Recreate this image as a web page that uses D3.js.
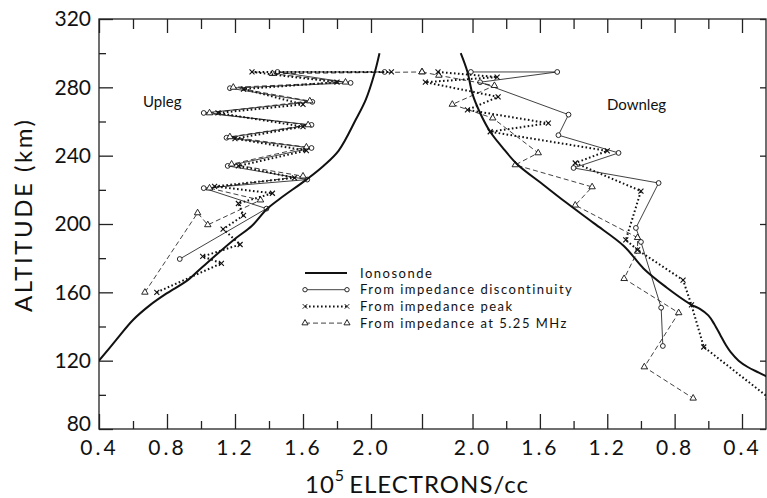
<!DOCTYPE html>
<html>
<head>
<meta charset="utf-8">
<script src="https://cdn.jsdelivr.net/npm/d3@7"></script>
<style>
  body { margin: 0; background: #fff; }
  svg { display: block; }
</style>
</head>
<body>
<svg id="chart" width="767" height="498"></svg>
<script>
// ---- axis ticks ----
const altTicks  = [80, 120, 160, 200, 240, 280, 320];
const altMinor  = [100, 140, 180, 220, 260, 300];
const upTicks   = [0.4, 0.8, 1.2, 1.6, 2.0];
const upMinor   = [0.6, 1.0, 1.4, 1.8];
const downTicks = [2.0, 1.6, 1.2, 0.8, 0.4];
const downMinor = [1.8, 1.4, 1.0, 0.6];
const breakValue = 2.3;   // both density scales meet here at the centre

// ---- series: [10^5 electrons/cc, altitude km] ----
const seriesNames = ["Ionosonde", "From impedance discontinuity", "From impedance peak", "From impedance at 5.25 MHz"];

const upIonosonde = [[0.4,120],[0.5,132],[0.6,143.8],[0.7,152.5],[0.8,159.5],[0.92,167],[1.01,175],[1.19,190.5],
  [1.30,199],[1.385,208.5],[1.46,214.5],[1.62,226],[1.72,234],[1.81,243],[1.91,261],[1.97,273],[2.02,288],[2.05,300]];
const downIonosonde = [[2.07,300],[2.03,289],[2.0,276],[1.955,265],[1.895,254],[1.824,245],[1.735,235],[1.58,223],
  [1.45,213],[1.28,200.5],[1.10,187],[0.985,174],[0.85,163],[0.705,153],[0.65,150.3],[0.60,146.5],[0.565,141.5],
  [0.526,134.5],[0.495,129],[0.467,125],[0.42,120],[0.366,116.3],[0.30,113],[0.247,110.4]];

const upDiscontinuity = [[0.875,179.5],[1.385,209],[1.016,221],[1.625,226],[1.157,234],[1.65,244.5],[1.15,250.5],
  [1.65,258],[1.016,265],[1.655,271.5],[1.17,279.5],[1.88,282.6],[1.45,289],[2.08,289]];
const downDiscontinuity = [[2.01,289],[1.497,289],[1.955,283],[1.43,264],[1.49,252],[1.133,241.6],[1.40,232.8],
  [0.895,224],[1.03,197.7],[1.0,189.5],[0.88,151],[0.87,128.6]];

const upPeak = [[0.74,160],[1.12,177],[1.01,181],[1.23,188],[1.13,197],[1.25,205],[1.22,212],[1.42,218],[1.08,222],
  [1.55,227],[1.22,234],[1.62,243],[1.2,250],[1.6,257],[1.1,265],[1.6,270],[1.25,279],[1.8,283],[1.3,289],[2.12,289]];
const downPeak = [[2.205,289],[1.854,286],[2.28,283],[1.848,274.4],[2.03,266.8],[1.55,259],[1.895,254],[1.20,242.8],
  [1.39,235.7],[1.0,219.3],[1.09,190.7],[1.02,184.8],[0.75,167.2],[0.70,152.6],[0.627,128],[0.246,98.7]];

const up525 = [[0.67,160],[0.98,206.5],[1.04,199.5],[1.35,214],[1.05,221],[1.6,228],[1.18,235],[1.62,245],[1.17,251],
  [1.63,258],[1.05,265],[1.64,272],[1.19,280],[1.85,283],[1.42,288],[2.3,289]];
const down525 = [[2.3,289],[2.2,287],[1.87,281],[2.12,270],[1.88,262],[1.61,241.6],[1.746,234.6],[1.29,221.7],
  [1.39,211],[1.02,192],[1.02,184],[1.10,168],[0.776,148],[0.98,116.3],[0.69,98]];

// ---- layout ----
const FONT = "Lato, 'DejaVu Sans', sans-serif";
const frame = { l: 99, r: 766, t: 19, b: 429 };
const svg = d3.select("#chart");

const xUp   = d3.scaleLinear().domain([0.4, breakValue]).range([99, 422]);
const xDown = d3.scaleLinear().domain([breakValue, 0.4]).range([422, 742]);
const y     = d3.scaleLinear().domain([80, 320]).range([frame.b, frame.t]);

svg.append("defs").append("clipPath").attr("id", "plotArea")
  .append("rect").attr("x", frame.l).attr("y", frame.t)
  .attr("width", frame.r - frame.l).attr("height", frame.b - frame.t);

// frame
svg.append("rect")
  .attr("x", frame.l).attr("y", frame.t)
  .attr("width", frame.r - frame.l).attr("height", frame.b - frame.t)
  .attr("fill", "none").attr("stroke", "#222").attr("stroke-width", 1.3);

function addAxis(gen, transform, withText) {
  const g = svg.append("g").attr("transform", transform).call(gen);
  g.select(".domain").remove();
  g.selectAll(".tick line").attr("stroke", "#222").attr("stroke-width", 1.3);
  if (withText) {
    g.selectAll(".tick text")
      .attr("font-family", FONT).attr("font-size", 21).attr("fill", "#111");
  } else {
    g.selectAll(".tick text").remove();
  }
  return g;
}
const fmt = d3.format(".1f");

// bottom axis (labelled)
addAxis(d3.axisBottom(xUp).tickValues(upTicks).tickSize(-15).tickPadding(11).tickFormat(fmt),
        `translate(0,${frame.b})`, true).selectAll(".tick text").attr("letter-spacing", 3);
addAxis(d3.axisBottom(xDown).tickValues(downTicks).tickSize(-15).tickPadding(11).tickFormat(fmt),
        `translate(0,${frame.b})`, true).selectAll(".tick text").attr("letter-spacing", 3);
addAxis(d3.axisBottom(xUp).tickValues(upMinor).tickSize(-8), `translate(0,${frame.b})`, false);
addAxis(d3.axisBottom(xDown).tickValues(downMinor).tickSize(-8), `translate(0,${frame.b})`, false);
addAxis(d3.axisBottom(xUp).tickValues([breakValue]).tickSize(-15), `translate(0,${frame.b})`, false);

// top axis
addAxis(d3.axisTop(xUp).tickValues(upTicks.concat([breakValue])).tickSize(-14), `translate(0,${frame.t})`, false);
addAxis(d3.axisTop(xDown).tickValues(downTicks).tickSize(-14), `translate(0,${frame.t})`, false);
addAxis(d3.axisTop(xUp).tickValues(upMinor).tickSize(-10), `translate(0,${frame.t})`, false);
addAxis(d3.axisTop(xDown).tickValues(downMinor).tickSize(-10), `translate(0,${frame.t})`, false);

// left axis
const yAxisG = addAxis(d3.axisLeft(y).tickValues(altTicks).tickSize(-14).tickPadding(8).tickFormat(d3.format("d")),
        `translate(${frame.l},0)`, true);
// lift the lowest label a little so it clears the first density label
yAxisG.selectAll(".tick text").filter(d => d === 80).attr("dy", "0.06em");
addAxis(d3.axisLeft(y).tickValues(altMinor).tickSize(-7), `translate(${frame.l},0)`, false);

// right axis
addAxis(d3.axisRight(y).tickValues(altTicks).tickSize(-6), `translate(${frame.r},0)`, false);

// ---- axis titles ----
svg.append("text")
  .attr("transform", "translate(32,216) rotate(-90)")
  .attr("text-anchor", "middle")
  .attr("font-family", FONT).attr("font-size", 24).attr("fill", "#111")
  .attr("textLength", 192).attr("lengthAdjust", "spacing")
  .text("ALTITUDE (km)");

const xt = svg.append("text")
  .attr("x", 305).attr("y", 493)
  .attr("font-family", FONT).attr("font-size", 24).attr("letter-spacing", 1).attr("fill", "#111");
xt.append("tspan").text("10");
xt.append("tspan").attr("font-size", 16).attr("dy", -12).text("5");
xt.append("tspan").attr("dy", 12).attr("dx", 4).text("ELECTRONS/cc");

svg.append("text").attr("x", 143).attr("y", 107)
  .attr("font-family", FONT).attr("font-size", 15).attr("fill", "#111").text("Upleg");
svg.append("text").attr("x", 607).attr("y", 110)
  .attr("font-family", FONT).attr("font-size", 15).attr("fill", "#111").text("Downleg");

// ---- series ----
const plot = svg.append("g").attr("clip-path", "url(#plotArea)");

const styles = [
  { width: 2.0, dash: null,      marker: null },
  { width: 0.8, dash: null,      marker: "circle" },
  { width: 2.0, dash: "1.6,2.4", marker: "times" },
  { width: 0.8, dash: "5,3",     marker: "triangle" }
];

function drawMarkers(g, pts, sx, kind) {
  if (!kind) return;
  if (kind === "circle") {
    g.selectAll(null).data(pts).join("circle")
      .attr("cx", d => sx(d[0])).attr("cy", d => y(d[1])).attr("r", 2.4)
      .attr("fill", "#fff").attr("stroke", "#111").attr("stroke-width", 0.9);
  } else {
    const sym = d3.symbol().type(kind === "times" ? d3.symbolTimes : d3.symbolTriangle).size(18);
    g.selectAll(null).data(pts).join("path")
      .attr("transform", d => `translate(${sx(d[0])},${y(d[1])})`)
      .attr("d", sym)
      .attr("fill", kind === "times" ? "none" : "#fff")
      .attr("stroke", "#111").attr("stroke-width", kind === "times" ? 1.1 : 0.9);
  }
}

function drawSeries(pts, sx, st, smooth) {
  const line = d3.line().x(d => sx(d[0])).y(d => y(d[1]));
  if (smooth) line.curve(d3.curveCatmullRom.alpha(0.5));
  const g = plot.append("g");
  g.append("path").datum(pts).attr("d", line)
    .attr("fill", "none").attr("stroke", "#111").attr("stroke-width", st.width)
    .attr("stroke-dasharray", st.dash).attr("stroke-linejoin", "round");
  drawMarkers(g, pts, sx, st.marker);
}

drawSeries(upDiscontinuity, xUp, styles[1]);
drawSeries(downDiscontinuity, xDown, styles[1]);
drawSeries(up525, xUp, styles[3]);
drawSeries(down525, xDown, styles[3]);
drawSeries(upPeak, xUp, styles[2]);
drawSeries(downPeak, xDown, styles[2]);
drawSeries(upIonosonde, xUp, styles[0], true);
drawSeries(downIonosonde, xDown, styles[0], true);

// ---- legend ----
const legend = svg.append("g");
seriesNames.forEach((name, i) => {
  const ly = 273 + i * 16.7;
  const st = styles[i];
  legend.append("line").attr("x1", 305).attr("x2", 347).attr("y1", ly).attr("y2", ly)
    .attr("stroke", "#111").attr("stroke-width", st.width).attr("stroke-dasharray", st.dash);
  if (st.marker) {
    const g = legend.append("g");
    const pts = [[305, ly], [347, ly]];
    if (st.marker === "circle") {
      g.selectAll(null).data(pts).join("circle").attr("cx", d => d[0]).attr("cy", d => d[1]).attr("r", 2.2)
        .attr("fill", "#fff").attr("stroke", "#111").attr("stroke-width", 0.9);
    } else {
      const sym = d3.symbol().type(st.marker === "times" ? d3.symbolTimes : d3.symbolTriangle).size(16);
      g.selectAll(null).data(pts).join("path").attr("transform", d => `translate(${d[0]},${d[1]})`)
        .attr("d", sym).attr("fill", st.marker === "times" ? "none" : "#fff")
        .attr("stroke", "#111").attr("stroke-width", 0.9);
    }
  }
  legend.append("text").attr("x", 360).attr("y", ly + 4.5)
    .attr("font-family", FONT).attr("font-size", 13).attr("letter-spacing", 1.5).attr("fill", "#111")
    .text(name);
});
</script>
</body>
</html>
